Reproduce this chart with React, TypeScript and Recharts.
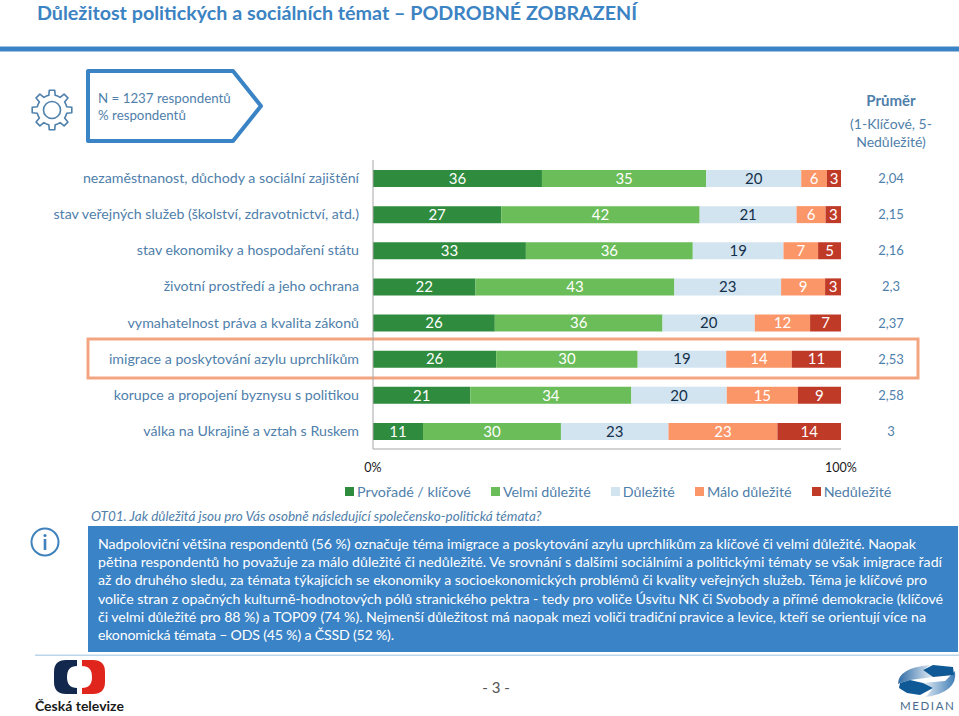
import React from 'react';
import { BarChart, Bar, XAxis, YAxis, LabelList, Legend } from 'recharts';

const FONT = 'Lato, "Noto Sans", sans-serif';
const TEXT_BLUE = '#4f80ab';

const topics = [
  'nezaměstnanost, důchody a sociální zajištění',
  'stav veřejných služeb (školství, zdravotnictví, atd.)',
  'stav ekonomiky a hospodaření státu',
  'životní prostředí a jeho ochrana',
  'vymahatelnost práva a kvalita zákonů',
  'imigrace a poskytování azylu uprchlíkům',
  'korupce a propojení byznysu s politikou',
  'válka na Ukrajině a vztah s Ruskem',
];
const means = ['2,04', '2,15', '2,16', '2,3', '2,37', '2,53', '2,58', '3'];
// the labels show them rounded
const prvorade = [36.1, 27.4, 32.7, 21.9, 26, 26.3, 20.8, 10.7];
const velmi = [35.1, 42.4, 35.7, 42.5, 35.8, 30.2, 34.4, 29.5];
const dulezite = [20.3, 20.7, 19.4, 22.8, 19.7, 18.9, 20.4, 23];
const malo = [5.5, 6.2, 7.4, 9.4, 11.8, 14, 15.2, 23.3];
const nedulezite = [3, 3.3, 4.9, 3.4, 6.6, 10.5, 9.2, 13.6];

const series = [
  { key: 'Prvořadé / klíčové', values: prvorade, color: '#2f8b3e', label: '#ffffff' },
  { key: 'Velmi důležité', values: velmi, color: '#6abd58', label: '#ffffff' },
  { key: 'Důležité', values: dulezite, color: '#d3e4f1', label: '#14304a' },
  { key: 'Málo důležité', values: malo, color: '#fb9669', label: '#ffffff' },
  { key: 'Nedůležité', values: nedulezite, color: '#c03a28', label: '#ffffff' },
];

const rows = topics.map((topic, i) => {
  const row: Record<string, string | number> = { topic, mean: means[i] };
  series.forEach((s) => {
    row[s.key] = s.values[i];
  });
  return row;
});

const paragraph = [
  'Nadpoloviční většina respondentů (56 %) označuje téma imigrace a poskytování azylu uprchlíkům za klíčové či velmi důležité. Naopak',
  'pětina respondentů ho považuje za málo důležité či nedůležité. Ve srovnání s dalšími sociálními a politickými tématy se však imigrace řadí',
  'až do druhého sledu, za témata týkajících se ekonomiky a socioekonomických problémů či kvality veřejných služeb. Téma je klíčové pro',
  'voliče stran z opačných kulturně-hodnotových pólů stranického pektra - tedy pro voliče Úsvitu NK či Svobody a přímé demokracie (klíčové',
  'či velmi důležité pro 88 %) a TOP09 (74 %). Nejmenší důležitost má naopak mezi voliči tradiční pravice a levice, kteří se orientují více na',
  'ekonomická témata – ODS (45 %) a ČSSD (52 %).',
];
const paragraphWidths = [818, 844, 829, 845, 828, 296];

// just the outline of the settings icon
const gearPath = (cx: number, cy: number, r1: number, r2: number, teeth: number) => {
  const pts: string[] = [];
  for (let i = 0; i < teeth; i++) {
    const a = (i * 2 * Math.PI) / teeth;
    const w = Math.PI / teeth;
    [[r1, -w], [r1, -w * 0.55], [r2, -w * 0.35], [r2, w * 0.35], [r1, w * 0.55]].forEach(([r, d]) => {
      pts.push(`${(cx + r * Math.cos(a + d)).toFixed(1)},${(cy + r * Math.sin(a + d)).toFixed(1)}`);
    });
  }
  return `M${pts.join('L')}Z`;
};

const MeanTick = (props: any) => (
  <text x={props.x + 42} y={props.y + 5} textAnchor="middle" fontSize={13} fill={TEXT_BLUE} fontFamily={FONT}>
    {props.payload.value}
  </text>
);

const TopicTick = (props: any) => (
  <text x={359} y={props.y + 5} textAnchor="end" fontSize={14.2} fill={TEXT_BLUE} fontFamily={FONT}>
    {props.payload.value}
  </text>
);

const LegendRow = () => (
  <div style={{ display: 'flex', gap: 20, fontFamily: FONT, fontSize: 14.3, color: TEXT_BLUE, whiteSpace: 'nowrap' }}>
    {series.map((s) => (
      <span key={s.key} style={{ display: 'flex', alignItems: 'center', gap: 3 }}>
        <span style={{ width: 9, height: 9, background: s.color, display: 'inline-block' }} />
        {s.key}
      </span>
    ))}
  </div>
);

const Page = () => (
  <svg width={959} height={716} style={{ position: 'absolute', left: 0, top: 0 }} fontFamily={FONT}>
    <text x={37} y={20} fontSize={19.7} fontWeight={700} fill="#3c83c3">
      Důležitost politických a sociálních témat – PODROBNÉ ZOBRAZENÍ
    </text>
    <rect x={0} y={46.5} width={959} height={5} fill="#3a83c5" />

    <path d={gearPath(52, 110, 15, 20, 8)} fill="none" stroke="#4f80ab" strokeWidth={1.6} strokeLinejoin="round" />
    <circle cx={52} cy={110} r={8.5} fill="none" stroke="#4f80ab" strokeWidth={1.6} />

    <path d="M88,71 L233,71 L261,106 L233,141 L88,141 Z" fill="#fff" stroke="#3a83c5" strokeWidth={4} strokeLinejoin="round" />
    <text x={98} y={103} fontSize={13.3} fill={TEXT_BLUE}>N = 1237 respondentů</text>
    <text x={98} y={120} fontSize={13.3} fill={TEXT_BLUE}>% respondentů</text>

    <text x={891} y={106} textAnchor="middle" fontSize={15} fontWeight={700} fill="#4f80ab">Průměr</text>
    <text x={891} y={129} textAnchor="middle" fontSize={14} fill={TEXT_BLUE}>(1-Klíčové, 5-</text>
    <text x={891} y={147} textAnchor="middle" fontSize={14} fill={TEXT_BLUE}>Nedůležité)</text>

    <rect x={88} y={339} width={830} height={39} fill="none" stroke="#f3a582" strokeWidth={3} />

    <text x={91} y={521} fontSize={13.5} fontStyle="italic" fill={TEXT_BLUE}>
      OT01. Jak důležitá jsou pro Vás osobně následující společensko-politická témata?
    </text>

    <circle cx={45} cy={542} r={13.5} fill="none" stroke="#3f82bd" strokeWidth={2} />
    <circle cx={45} cy={535.5} r={1.6} fill="#3f82bd" />
    <rect x={43.7} y={539} width={2.6} height={11} fill="#3f82bd" />

    <rect x={88} y={526} width={870} height={126} fill="#3a83c6" />
    {paragraph.map((line, i) => (
      <text key={i} x={98} y={549 + i * 18.2} fontSize={14.2} fill="#ffffff" textLength={paragraphWidths[i]} lengthAdjust="spacing">
        {line}
      </text>
    ))}

    <rect x={35} y={654.5} width={924} height={1.5} fill="#bcd5e8" />

    <path d="M77,660 L66,660 Q54,660 54,672 L54,682 Q54,694 66,694 L77,694 L77,688 Q67,688 67,677 Q67,666 77,666 Z" fill="#12284c" />
    <path d="M82,660 L93,660 Q105,660 105,672 L105,682 Q105,694 93,694 L82,694 L82,688 Q92,688 92,677 Q92,666 82,666 Z" fill="#e0261c" />
    <text x={35} y={711} fontSize={14} fontWeight={700} fill="#1a1a1a">Česká televize</text>

    <text x={496} y={693} textAnchor="middle" fontSize={15} fill="#555">- 3 -</text>

    <defs>
      <linearGradient id="medianLeft" x1="0" x2="1" y1="0" y2="0">
        <stop offset="0" stopColor="#2f6ca6" />
        <stop offset="1" stopColor="#e4edf5" />
      </linearGradient>
      <linearGradient id="medianRight" x1="0" x2="1" y1="0" y2="0">
        <stop offset="0" stopColor="#e4edf5" />
        <stop offset="1" stopColor="#3f7db5" />
      </linearGradient>
    </defs>
    <path d="M898,684 Q898,668 930,665 L923,670 L933,677 L910,680 L900,683 Z" fill="url(#medianLeft)" />
    <path d="M955,671 Q958,692 926,697 L933,688 L923,683 L945,681 Z" fill="url(#medianRight)" />
    <path d="M923,670 L933,665 L953,667 L954,675 L933,677 Z" fill="#0f5a96" />
    <path d="M900,683 L910,680 L923,683 L933,688 L920,695 L907,693 L899,688 Z" fill="#0f5a96" />
    <text x={900} y={710} fontSize={11.5} letterSpacing={1.6} fill="#4a6c8c">MEDIAN</text>
  </svg>
);

export default function App() {
  return (
    <div style={{ position: 'absolute', left: 0, top: 0, width: 959, height: 716, overflow: 'hidden', background: '#fff' }}>
      <Page />
      <div style={{ position: 'absolute', left: 0, top: 0 }}>
        <BarChart
          width={959}
          height={716}
          data={rows}
          layout="vertical"
          stackOffset="expand"
          margin={{ top: 160, right: 0, bottom: 237, left: 0 }}
          style={{ fontFamily: FONT }}
        >
          <XAxis
            type="number"
            domain={[0, 1]}
            ticks={[0, 1]}
            tickFormatter={(v: number) => `${v * 100}%`}
            height={30}
            stroke="#a6a6a6"
            tickLine={false}
            tick={{ fontSize: 12.5, fill: '#1a1a1a', dy: 6 }}
          />
          <YAxis
            yAxisId="topic"
            type="category"
            dataKey="topic"
            width={373}
            stroke="#a6a6a6"
            tickLine={false}
            interval={0}
            tick={TopicTick}
          />
          <YAxis
            yAxisId="mean"
            type="category"
            dataKey="mean"
            orientation="right"
            width={118}
            axisLine={false}
            tickLine={false}
            interval={0}
            tick={MeanTick}
          />
          <Legend
            content={LegendRow}
            verticalAlign="middle"
            align="center"
            wrapperStyle={{ left: 345, top: 483, width: 560 }}
          />
          {series.map((s) => (
            <Bar key={s.key} yAxisId="topic" dataKey={s.key} stackId="a" fill={s.color} barSize={17} isAnimationActive={false}>
              <LabelList
                dataKey={s.key}
                position="center"
                fill={s.label}
                fontSize={15}
                formatter={(v: number) => Math.round(v)}
              />
            </Bar>
          ))}
        </BarChart>
      </div>
    </div>
  );
}
